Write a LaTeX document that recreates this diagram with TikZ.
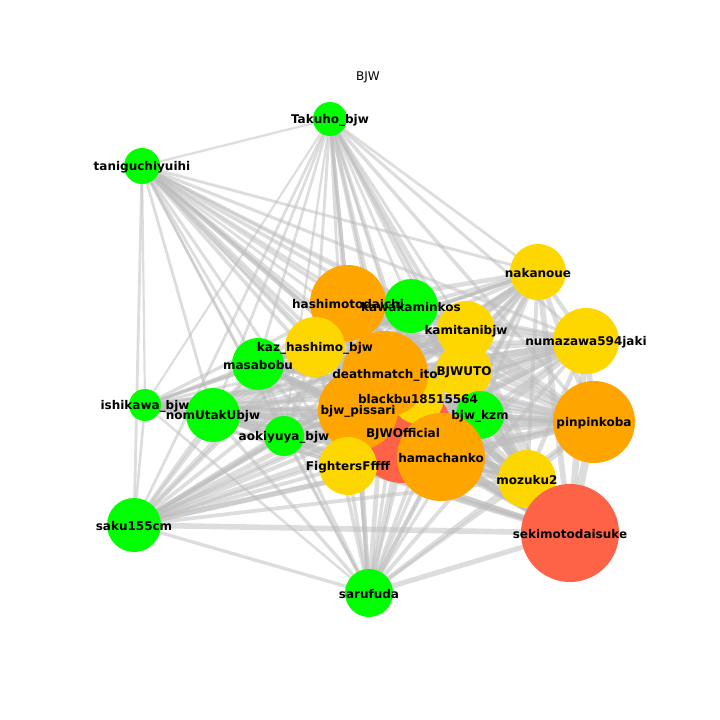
\documentclass[tikz,border=0pt]{standalone}
\usepackage{fontspec}
\setmainfont{DejaVu Sans}
\pgfdeclarelayer{background}
\pgfsetlayers{background,main}
\definecolor{nlime}{RGB}{0,255,0}
\definecolor{ngold}{RGB}{255,215,0}
\definecolor{norange}{RGB}{255,165,0}
\definecolor{ntomato}{RGB}{255,99,71}
\definecolor{edgegray}{RGB}{188,188,188}
\tikzset{
  vert/.style={circle,inner sep=0pt,minimum size=#1},
  vlabel/.style={inner sep=0pt,yshift=-1.5pt,font=\bfseries\fontsize{12}{14}\selectfont,text=black},
  edge/.style={draw=edgegray,draw opacity=0.5,line width=#1}
}
\begin{document}
\begin{tikzpicture}[x=1pt,y=-1pt]
\useasboundingbox (0,0) rectangle (720,720);
\node[inner sep=0pt,yshift=-1pt,font=\fontsize{12}{14}\selectfont] (title) at (368,76) {BJW};
\foreach \id/\x/\y/\r/\c in {
  tak/330/119/17/nlime, tan/142/166/18/nlime, ish/145/405/16/nlime,
  saku/134/525/27/nlime, saru/369/593/24/nlime, nom/213/415/27/nlime,
  aoki/284/436/20/nlime, masa/258/364/26/nlime, naka/538/272/28/ngold,
  numa/586/341/33/ngold, pin/594/422/41/norange, moz/527/479/29/ngold,
  seki/570/533/49/ntomato, hashi/348/303/38/norange, kawa/411/306/27/nlime,
  kami/466/330/29/ngold, uto/464/371/28/ngold, off/403/433/50/ntomato,
  black/418/398/26/ngold, death/385/374/43/norange, kaz/315/347/30/ngold,
  piss/358/410/40/norange, kzm/480/415/24/nlime, hama/441/457/44/norange,
  fight/348/466/29/ngold}
  { \node[vert=2*\r pt,fill=\c] (\id) at (\x,\y) {}; }
\foreach \id/\lab in {
  tak/Takuho\_bjw, tan/taniguchiyuihi, ish/ishikawa\_bjw, saku/saku155cm,
  saru/sarufuda, nom/nomUtakUbjw, aoki/aokiyuya\_bjw, masa/masabobu,
  naka/nakanoue, numa/numazawa594jaki, pin/pinpinkoba, moz/mozuku2,
  seki/sekimotodaisuke, hashi/hashimotodaichi, kawa/kawakaminkos,
  kami/kamitanibjw, uto/BJWUTO, off/BJWOfficial, black/blackbu18515564,
  death/deathmatch\_ito, kaz/kaz\_hashimo\_bjw, piss/bjw\_pissari,
  kzm/bjw\_kzm, hama/hamachanko, fight/FightersFffff}
  { \node[vlabel] (\id-l) at (\id.center) {\lab}; }
\def\nodelist{tak/17,tan/18,ish/16,saku/27,saru/24,nom/27,aoki/20,masa/26,naka/28,numa/33,pin/41,moz/29,seki/49,hashi/38,kawa/27,kami/29,uto/28,off/50,black/26,death/43,kaz/30,piss/40,kzm/24,hama/44,fight/29}
\begin{pgfonlayer}{background}
\foreach \a/\ra [count=\i] in \nodelist {
  \foreach \b/\rb [count=\j] in \nodelist {
    \ifnum\j>\i
      \pgfmathsetmacro\w{min(8,1.2+\ra*\rb/300)}
      \draw[edge=\w pt] (\a.center) -- (\b.center);
    \fi
  }
}
\end{pgfonlayer}
\end{tikzpicture}
\end{document}
